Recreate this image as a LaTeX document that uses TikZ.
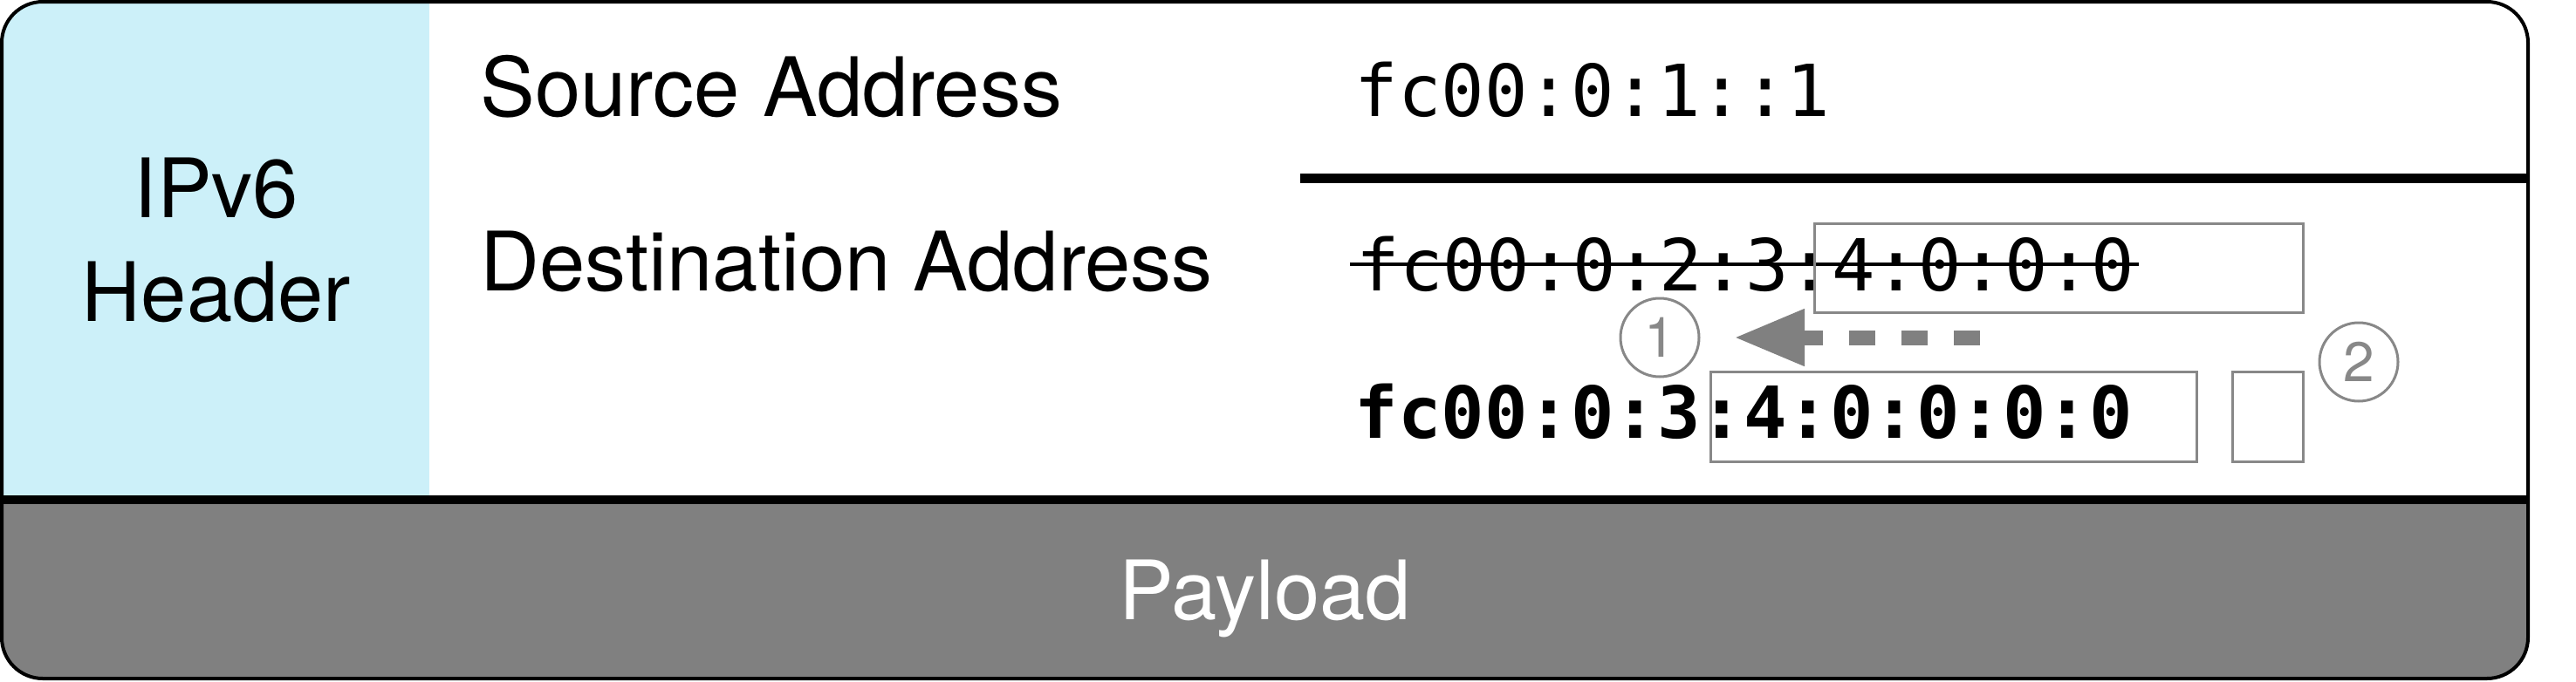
\documentclass[tikz,border=0pt]{standalone}
\usepackage{fontspec}
\setmainfont{TeX Gyre Heros}
\newfontfamily\addrfont{DejaVu Sans Mono}
\usepackage{tikz}
\usetikzlibrary{calc,arrows.meta}
\definecolor{hdrblue}{RGB}{204,240,249}
\definecolor{boxgray}{RGB}{136,136,136}
\definecolor{paygray}{RGB}{128,128,128}
\tikzset{
	fieldtext/.style={anchor=base west, inner sep=0pt, font=\fontsize{26.75}{33.8}\selectfont},
	addr/.style={anchor=base west, inner sep=0pt, font=\addrfont\fontsize{23.4}{28}\selectfont},
	markbox/.style={draw=boxgray, line width=0.03cm},
	stepnum/.style={circle, draw=boxgray, line width=0.03cm, minimum size=0.9cm, inner sep=0pt, text=boxgray, font=\fontsize{18.2}{20}\selectfont},
	movearrow/.style={draw=paygray, line width=0.17cm, dash pattern=on 0.3cm off 0.3cm, -{Triangle[length=0.81cm,width=0.61cm]}}
}

\begin{document}
\begin{tikzpicture}
				\useasboundingbox (0,0) rectangle (29.52,7.81);
				
				\begin{scope}
					\clip[rounded corners=0.47cm] (0.02,0.03) rectangle (28.97,7.79);
					\fill[hdrblue] (0,2.08) rectangle (4.92,7.81);
					\fill[paygray] (0,0) rectangle (28.97,2.08);
				\end{scope}
				\draw[line width=0.10cm] (0.02,2.08) -- (28.97,2.08);
				\draw[line width=0.04cm, rounded corners=0.47cm] (0.02,0.03) rectangle (28.97,7.79);
				\draw[line width=0.11cm] (14.90,5.765) -- (28.97,5.765);
				
				\node[fieldtext, anchor=base, align=center] (hdr) at (2.48,4.13) {IPv6\\Header};
				\node[fieldtext] (srcname) at (5.50,6.48) {Source Address};
				\node[fieldtext] (dstname) at (5.50,4.48) {Destination Address};
				\node[fieldtext, anchor=base, text=white] (payload) at (14.50,0.71) {Payload};
				
				\node[addr] (srcaddr) at (15.52,6.48) {fc00:0:1::1};
				\node[addr] (dstold) at (15.54,4.48) {fc00:0:2:3:4:0:0:0};
				\node[addr, font=\addrfont\bfseries\fontsize{23.4}{28}\selectfont] (dstnew) at (15.52,2.785) {fc00:0:3:4:0:0:0:0};
				\draw[line width=0.04cm] ($(dstold.base west)+(-0.07,0.30)$) -- ($(dstold.base east)+(0.04,0.30)$);
				
				\draw[markbox] (20.79,5.25) rectangle (26.39,4.23);
				\draw[markbox] (19.60,3.55) rectangle (25.17,2.52);
				\draw[markbox] (25.58,3.55) rectangle (26.39,2.52);
				
				\node[stepnum] (c1) at (19.02,3.94) {1};
				\node[stepnum] (c2) at (27.03,3.66) {2};
				\coordinate (mvS) at (22.69,3.94);
				\draw[movearrow, shorten >=0.385cm] (mvS) -- (c1);
\end{tikzpicture}
\end{document}
